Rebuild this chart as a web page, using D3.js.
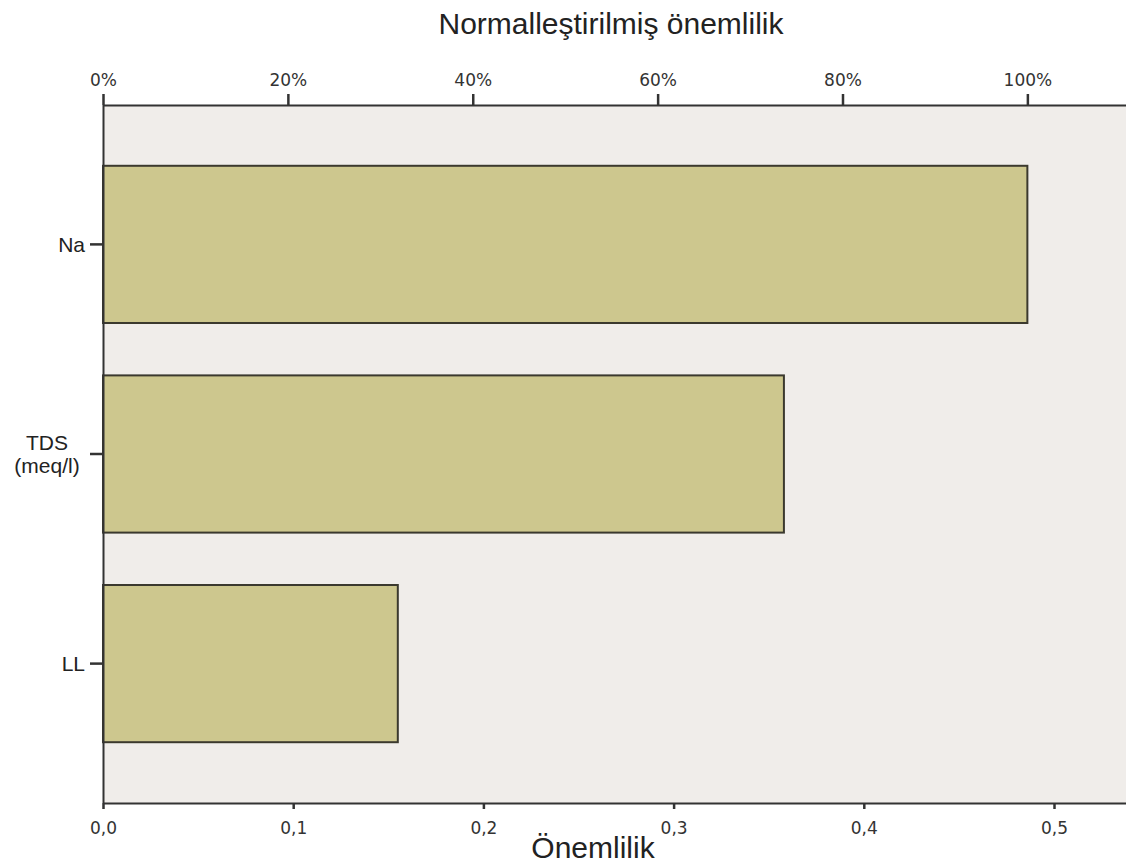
<!DOCTYPE html>
<html>
<head>
<meta charset="utf-8">
<script src="https://cdn.jsdelivr.net/npm/d3@7"></script>
<style>
  body { margin: 0; background: #fff; }
</style>
</head>
<body>
<script>
// --- data ---
var categories = ["Na", "TDS\n(meq/l)", "LL"];
var importance = [0.486, 0.358, 0.155];
var bottomTicks = [0, 0.1, 0.2, 0.3, 0.4, 0.5];
var topTicks = [0, 0.2, 0.4, 0.6, 0.8, 1.0];

function draw_chart() {
    var W = 1126, H = 867;
    var plotLeft = 103, plotTop = 105, plotBottom = 803;
    var pxPerUnit = 1902;
    var maxImp = d3.max(importance);

    var svg = d3.select("body").append("svg")
        .attr("width", W)
        .attr("height", H);

    // scales
    var x = d3.scaleLinear().domain([0, 0.56]).range([plotLeft, plotLeft + 0.56 * pxPerUnit]);
    var xPct = d3.scaleLinear().domain([0, 1.2]).range([x(0), x(0) + 1.2 * (x(maxImp) - x(0))]);
    var y = d3.scaleBand().domain(categories).range([plotTop, plotBottom])
        .paddingInner(0.25).paddingOuter(0.29);

    // plot background
    svg.append("rect")
        .attr("x", plotLeft).attr("y", plotTop)
        .attr("width", W - plotLeft + 10).attr("height", plotBottom - plotTop)
        .attr("fill", "#f0edea");

    // bars
    svg.append("g").selectAll("rect")
        .data(importance)
        .join("rect")
        .attr("x", x(0))
        .attr("y", (d, i) => y(categories[i]))
        .attr("width", d => x(d) - x(0))
        .attr("height", y.bandwidth())
        .attr("fill", "#cdc78e")
        .attr("stroke", "#3b392e")
        .attr("stroke-width", 2);

    var tickFont = '"DejaVu Sans", sans-serif';
    var fmtComma = d => d3.format(".1f")(d).replace(".", ",");

    // bottom axis
    var gx = svg.append("g")
        .attr("transform", "translate(0," + plotBottom + ")")
        .call(d3.axisBottom(x).tickValues(bottomTicks).tickFormat(fmtComma).tickSize(6).tickPadding(13));

    // top axis
    var gt = svg.append("g")
        .attr("transform", "translate(0," + plotTop + ")")
        .call(d3.axisTop(xPct).tickValues(topTicks).tickFormat(d3.format(".0%")).tickSize(11).tickPadding(8));

    // left axis
    var gy = svg.append("g")
        .attr("transform", "translate(" + plotLeft + ",0)")
        .call(d3.axisLeft(y).tickSize(13).tickPadding(4).tickFormat(""));

    [gx, gt, gy].forEach(function(g) {
        g.select(".domain").attr("stroke", "#333").attr("stroke-width", 2);
        g.selectAll(".tick line").attr("stroke", "#333").attr("stroke-width", 2.5);
    });
    gy.select(".domain").attr("d", "M0.5," + plotTop + "V" + plotBottom);
    gx.select(".domain").attr("d", "M" + plotLeft + ",0.5H" + (W + 10));
    gt.select(".domain").attr("d", "M" + plotLeft + ",0.5H" + (W + 10));

    [gx, gt].forEach(function(g) {
        g.selectAll(".tick text")
            .attr("font-family", tickFont)
            .attr("font-size", "17px")
            .attr("fill", "#333");
    });

    // category labels (multi-line)
    gy.selectAll(".tick").each(function(d) {
        var lines = d.split("\n");
        var t = d3.select(this).append("text")
            .attr("font-family", '"Liberation Sans", Arial, sans-serif')
            .attr("font-size", "21px")
            .attr("fill", "#222");
        lines.forEach(function(l, i) {
            t.append("tspan")
                .attr("x", lines.length > 1 ? -56 : -18)
                .attr("text-anchor", lines.length > 1 ? "middle" : "end")
                .attr("dy", i === 0 ? ((0.35 - (lines.length - 1) * 0.55) + "em") : "1.1em")
                .text(l);
        });
    });

    // titles
    svg.append("text")
        .text("Normalleştirilmiş önemlilik")
        .attr("x", 611).attr("y", 34)
        .attr("text-anchor", "middle")
        .attr("font-family", '"Liberation Sans", Arial, sans-serif')
        .attr("font-size", "30px")
        .attr("fill", "#222");

    svg.append("text")
        .text("Önemlilik")
        .attr("x", 593).attr("y", 858)
        .attr("text-anchor", "middle")
        .attr("font-family", '"Liberation Sans", Arial, sans-serif')
        .attr("font-size", "30px")
        .attr("fill", "#222");
}

draw_chart();
</script>
</body>
</html>
